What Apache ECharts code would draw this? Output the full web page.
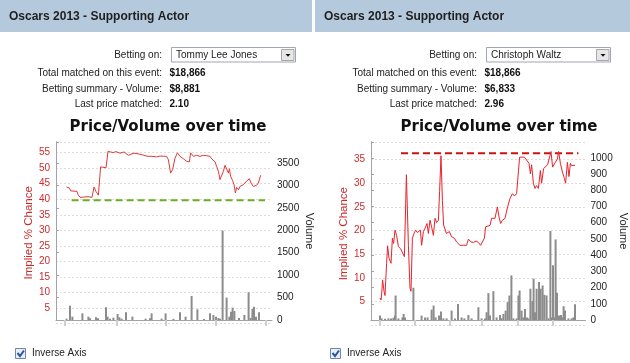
<!DOCTYPE html>
<html><head><meta charset="utf-8">
<script src="https://cdn.jsdelivr.net/npm/echarts@6/dist/echarts.min.js"></script>
<style>html,body{margin:0;padding:0;background:#fff}#c{width:630px;height:363px}</style>
</head><body><div id="c"></div>
<script>
// ---------- texts ----------
const panelTitle = 'Oscars 2013 - Supporting Actor';
const chartTitle = 'Price/Volume over time';
const infoLabels = ['Betting on:', 'Total matched on this event:', 'Betting summary - Volume:', 'Last price matched:'];
const leftInfo = ['Tommy Lee Jones', '$18,866', '$8,881', '2.10'];
const rightInfo = ['Christoph Waltz', '$18,866', '$6,833', '2.96'];
const checkboxLabel = 'Inverse Axis';
const priceAxisName = 'Implied % Chance';
const volumeAxisName = 'Volume';

// ---------- left chart data (Tommy Lee Jones) ----------
const leftTime = [5.3,6.7,7.3,8,9,10,10.5,11,12,13,14,15,16,17,18,19,20,21.2,22.3,23.5,25,26,27,28.5,30,32,34,35,36.2,37.5,39,41,43,44.5,46,48,50.3,52,53.7,55.3,56.2,57.3,58.3,59.5,60.7,62,63.7,65.3,66.7,67.3,68.7,70.3,72,73.7,75.3,77,77.8,79.5,80.3,81.2,82,82.5,83.7,84.5,85.3,86.2,86.7,87.3,88.3,89,89.7,90.3,91.2,92,93.7,95.3,96.7,97.5,98.7,99.5,100.3,101.2,102.3];
const leftPrice = [43.9,43.6,42.7,43.0,42.6,42.8,42.5,41.5,40.6,40.2,40.7,40.3,40.8,40.4,40.6,43.9,42.5,41.3,50.4,50.3,50.1,55.4,55.2,55.0,55.3,54.8,55.2,55.0,54.1,54.5,54.8,54.6,54.3,54.0,53.8,53.8,53.6,53.9,53.8,53.8,52.7,48.4,49.5,53.2,54.9,53.8,53.0,52.2,52.0,54.9,53.8,54.1,53.8,54.1,54.0,53.8,53.0,52.0,50.6,49.0,46.3,45.8,49.0,50.9,51.1,48.4,49.8,47.4,46.0,44.7,42.0,43.8,43.0,44.1,44.7,45.8,46.6,45.2,44.1,43.6,44.5,45.2,47.7];
const leftVolTime = [5.3,7,8.2,13.2,16.2,17,20,21,25,25.8,27,28.7,30.8,31.7,32.8,35,38.2,44.8,47,47.8,52.8,54.8,58.7,62,64.8,67.8,70.7,74,77,78.7,80,81.2,82,83.3,85.3,86.7,87.5,88.3,89.2,91.5,94.2,96.3,97.3,98.2,99,100,101.5];
const leftVolume = [30,320,75,149,75,37,60,40,283,75,30,52,134,60,30,171,75,30,40,149,30,149,25,171,75,536,238,20,149,112,75,45,30,1994,499,75,186,276,200,45,112,619,45,246,298,75,171];
const leftRefTime = [7.8, 104.5];
const leftRefValue = [39.7, 39.7];
const leftTickTime = [4.5, 30.3, 55, 80, 105];

// ---------- right chart data (Christoph Waltz) ----------
const rightTime = [4.5,5,5.3,5.8,6.5,7,7.8,8.3,9,10,10.7,11.3,12,12.8,13.7,14.8,15.7,16.7,17.7,18.7,19.5,20,20.7,21.5,22.3,23.2,24,24.7,25.3,26.2,27,28,28.7,29.5,30.3,31.2,32,32.8,33.7,34.3,35,35.7,36.3,37,37.7,38.3,39.2,40.3,41.7,42.8,44.5,46.2,47.8,48.7,50,51.2,52.5,53.7,54.8,55.7,56.7,57.3,58.3,59.5,60.3,61.2,62,63.2,64,64.8,65.7,67,68.3,69.5,70.7,71.7,72.8,73.7,74.3,75.3,76.7,77.8,79,79.7,80.3,81.2,82,82.8,83.7,84.7,85.3,86.3,87.3,88.3,89.3,90,90.8,91.7,92.3,93.2,93.8,94.7,95.7,96.7,97.3,98.2,99,99.7,100.3,101.2,102];
const rightPrice = [5.8,5.35,6.4,9.6,7.2,6.3,13.1,16.8,14.2,13.1,18.4,17.3,20.1,19.0,16.6,16.2,15.9,14.5,31.8,16.9,7.8,7.2,18.4,19.4,20.1,19.6,19.4,20.1,16.9,19.8,20.5,21.5,19.4,22.2,20.8,19.0,22.6,21.7,22.2,28.3,35.8,26.4,21.2,21.5,19.4,19.0,19.8,18.7,18.4,17.6,16.9,16.9,16.9,18.2,17.6,17.5,17.8,17.5,16.9,17.6,18.4,20.8,21.0,21.1,22.6,22.9,22.6,25.0,22.9,21.5,22.2,22.6,25.0,26.8,27.8,27.3,27.8,32.4,35.5,35.5,35.5,34.9,34.2,32.0,33.9,30.0,28.9,29.5,28.9,32.7,30.0,33.1,33.4,33.9,35.5,36.7,33.4,33.4,34.5,35.1,36.7,34.2,32.4,31.0,30.0,34.4,31.4,34.2,33.7,33.4,33.8];
const rightVolTime = [4.5,5.3,7,8.7,10,11.2,12,12.3,13.7,15.7,16.3,17,21.2,25.3,27,28.3,30.3,31.3,32.3,34,35,36.2,37.8,40.3,42,43.5,45.3,46.7,48.7,50.3,53.7,55.3,57,57.8,58.7,59.5,61.2,62.8,64.5,65.3,66.2,67.3,68.3,69.2,70.2,71.2,72.8,73.7,74.3,75.3,76.2,77,78,78.7,79.7,80.7,81.3,82,82.8,84,84.8,85.8,86.7,87.8,88.7,89.7,90.3,91,91.7,92.3,93,94,95,95.7,96.3,97,98.7,100.3,101.2,102];
const rightVolume = [27,10,8,10,10,14,27,151,10,16,37,16,199,27,16,16,64,89,16,27,52,10,10,58,10,99,16,10,31,10,79,10,10,48,166,27,178,16,31,10,37,58,110,151,275,10,10,151,182,58,16,68,16,10,193,116,255,48,193,234,193,213,155,151,10,549,16,337,16,497,168,27,31,16,85,58,10,10,16,97];
const rightRefTime = [15, 103.7];
const rightRefValue = [36.3, 36.3];
const rightTickTime = [4.5, 21.7, 39.5, 55.5, 73.5, 91];

// ---------- styles ----------
const SANS = '"Liberation Sans", Arial, sans-serif';
const RED_TXT = '#cc2b2b';
const AXIS_GREY = '#a3a3a3';

function pairs(xs, ys) { return xs.map((x, i) => [x, ys[i]]); }

const chart = echarts.init(document.getElementById('c'));

const grids = [], xAxes = [], yAxes = [], series = [], graphics = [];

function addPanel(cfg) {
  const gP = grids.length;
  grids.push({ left: cfg.left, width: cfg.width, top: 142, height: cfg.priceH });
  const gV = grids.length;
  grids.push({ left: cfg.left, width: cfg.width, top: 142, height: 178 });

  const xP = xAxes.length;
  xAxes.push({ type: 'value', gridIndex: gP, min: 0, max: cfg.tMax, show: false });
  const xV = xAxes.length;
  xAxes.push({ type: 'value', gridIndex: gV, min: 0, max: cfg.tMax,
    axisLine: { show: true, lineStyle: { color: AXIS_GREY } },
    axisTick: { show: true, inside: false, length: 6, customValues: cfg.ticks, lineStyle: { color: '#cfcfcf', width: 2 } },
    axisLabel: { show: false }, splitLine: { show: false } });

  const yP = yAxes.length;
  yAxes.push({ type: 'value', gridIndex: gP, position: 'left', min: 0, max: cfg.priceMax, interval: 5,
    name: priceAxisName, nameLocation: 'middle', nameGap: 21, nameRotate: 90,
    nameTextStyle: { color: RED_TXT, fontSize: 11.5, fontFamily: SANS },
    axisLine: { show: false }, axisTick: { show: false },
    axisLabel: { color: RED_TXT, fontSize: 10, fontFamily: SANS, margin: 6,
      formatter: v => (v > 0 && v % 5 === 0) ? String(v) : '' },
    splitLine: { show: true, lineStyle: { color: '#ead8d8', type: [2, 2], width: 1 } } });
  const yV = yAxes.length;
  yAxes.push({ type: 'value', gridIndex: gV, position: 'right', min: 0, max: cfg.volMax, interval: cfg.volInterval,
    name: volumeAxisName, nameLocation: 'middle', nameGap: 32, nameRotate: -90,
    nameTextStyle: { color: '#222', fontSize: 11, fontFamily: SANS },
    axisLine: { show: true, lineStyle: { color: AXIS_GREY } },
    axisTick: { show: true, length: 3, lineStyle: { color: AXIS_GREY } },
    axisLabel: { color: '#222', fontSize: 10, fontFamily: SANS, margin: 5,
      formatter: v => (v % cfg.volInterval === 0) ? String(v) : '' },
    splitLine: { show: false } });
  yAxes.push({ type: 'value', gridIndex: gV, position: 'left', min: 0, max: 1,
    axisLine: { show: true, lineStyle: { color: AXIS_GREY } }, axisTick: { show: false },
    axisLabel: { show: false }, splitLine: { show: false } });

  series.push({ type: 'bar', xAxisIndex: xV, yAxisIndex: yV, barWidth: 2, data: pairs(cfg.volTime, cfg.volume),
    itemStyle: { color: '#8c8c8c' }, silent: true, animation: false });
  series.push({ type: 'line', xAxisIndex: xP, yAxisIndex: yP, data: pairs(cfg.refTime, cfg.refValue), symbol: 'none',
    lineStyle: { color: cfg.refColor, width: 2, type: [7, 4] }, animation: false, z: 3 });
  series.push({ type: 'line', xAxisIndex: xP, yAxisIndex: yP, data: pairs(cfg.time, cfg.price), symbol: 'none',
    lineStyle: { color: cfg.lineColor, width: 1 }, animation: false, z: 4 });

  // ---- panel furniture drawn as graphics ----
  const ox = cfg.ox;
  graphics.push({ type: 'rect', shape: { x: ox, y: 0, width: cfg.headW, height: 32 }, style: { fill: '#b5c9dc' } });
  graphics.push({ type: 'text', x: ox + 9, y: 17, style: { text: panelTitle, font: 'bold 12px ' + SANS, fill: '#1e1e1e',
    align: 'left', verticalAlign: 'middle', textAlign: 'left', textVerticalAlign: 'middle' } });
  const rowY = [55, 73.3, 89.3, 104.7];
  infoLabels.forEach((lab, i) => {
    graphics.push({ type: 'text', x: ox + 162, y: rowY[i], style: { text: lab, font: '10px ' + SANS, fill: '#222',
      align: 'right', verticalAlign: 'middle', textAlign: 'right', textVerticalAlign: 'middle' } });
  });
  graphics.push({ type: 'rect', shape: { x: ox + 171.5, y: 47.5, width: 124, height: 14.5 }, style: { fill: '#fff', stroke: '#9fa7b2', lineWidth: 1 } });
  graphics.push({ type: 'rect', shape: { x: ox + 281.5, y: 49.5, width: 12.5, height: 11 }, style: { fill: '#e6e6e6', stroke: '#a8a8a8', lineWidth: 1 } });
  graphics.push({ type: 'polygon', shape: { points: [[ox + 285.5, 54], [ox + 290.5, 54], [ox + 288, 56.8]] }, style: { fill: '#111' } });
  graphics.push({ type: 'text', x: ox + 176, y: 55, style: { text: cfg.info[0], font: '10px ' + SANS, fill: '#222',
    align: 'left', verticalAlign: 'middle', textAlign: 'left', textVerticalAlign: 'middle' } });
  for (let i = 1; i < 4; i++) {
    graphics.push({ type: 'text', x: ox + 169.5, y: rowY[i], style: { text: cfg.info[i], font: 'bold 10px ' + SANS, fill: '#111',
      align: 'left', verticalAlign: 'middle', textAlign: 'left', textVerticalAlign: 'middle' } });
  }
  graphics.push({ type: 'text', x: cfg.titleX, y: 127, style: { text: chartTitle, font: 'bold 15px "DejaVu Sans", sans-serif', fill: '#111',
    align: 'center', verticalAlign: 'middle', textAlign: 'center', textVerticalAlign: 'middle' } });
  graphics.push({ type: 'rect', shape: { x: ox + 15.5, y: 348.5, width: 10, height: 10 }, style: { fill: '#e9eef5', stroke: '#6f88a8', lineWidth: 1 } });
  graphics.push({ type: 'polyline', shape: { points: [[ox + 17.5, 353], [ox + 20, 356], [ox + 24, 350.5]] }, style: { stroke: '#2b56a6', lineWidth: 2, fill: null } });
  graphics.push({ type: 'text', x: ox + 32, y: 353.5, style: { text: checkboxLabel, font: '10px ' + SANS, fill: '#222',
    align: 'left', verticalAlign: 'middle', textAlign: 'left', textVerticalAlign: 'middle' } });
}

addPanel({ ox: 0, headW: 312, left: 56, width: 216, priceH: 181.6, tMax: 108, priceMax: 58.4, volMax: 3970, volInterval: 500,
  time: leftTime, price: leftPrice, volTime: leftVolTime, volume: leftVolume, refTime: leftRefTime, refValue: leftRefValue,
  refColor: '#6aae24', lineColor: '#dc3a3a', ticks: leftTickTime, info: leftInfo, titleX: 168 });
addPanel({ ox: 315, headW: 315, left: 371, width: 214.5, priceH: 183.4, tMax: 107.25, priceMax: 38.7, volMax: 1098, volInterval: 100,
  time: rightTime, price: rightPrice, volTime: rightVolTime, volume: rightVolume, refTime: rightRefTime, refValue: rightRefValue,
  refColor: '#cc1111', lineColor: '#e8232b', ticks: rightTickTime, info: rightInfo, titleX: 499 });

chart.setOption({
  animation: false,
  backgroundColor: '#ffffff',
  grid: grids, xAxis: xAxes, yAxis: yAxes, series: series,
  graphic: { elements: graphics }
});
</script></body></html>
